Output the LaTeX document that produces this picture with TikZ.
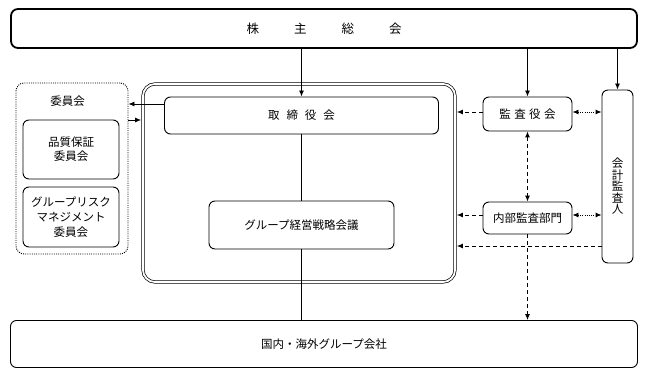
\documentclass[tikz,border=0pt]{standalone}
\usepackage{fontspec}
\setmainfont{Noto Sans CJK JP}
\usetikzlibrary{arrows.meta}

\begin{document}
\begin{tikzpicture}[
    x=1pt, y=-1pt,
    every node/.style={font=\fontsize{11.5}{14}\selectfont},
    line width=0.9pt,
    box/.style={draw, rounded corners=6pt, fill=white, align=center, inner sep=0pt},
    arr/.style={-{Latex[length=6pt,width=5pt]}},
    twoarr/.style={{Latex[length=6pt,width=5pt]}-{Latex[length=6pt,width=5pt]}},
    dashline/.style={dash pattern=on 4pt off 3pt},
    dotline/.style={dash pattern=on 1pt off 1.2pt}
]
\useasboundingbox (0,0) rectangle (648,377);

% shareholders and group companies
\node[box, line width=1.8pt, rounded corners=7pt, minimum width=626pt, minimum height=39pt,
      font=\fontsize{12.5}{15}\selectfont] (sh) at (324,28.5)
    {株\hspace{2.8em}主\hspace{2.8em}総\hspace{2.8em}会};
\node[box, minimum width=627pt, minimum height=47pt] (grp) at (324,344) {国内・海外グループ会社};

% board frame
\node[draw, double, double distance=1.8pt, line width=0.7pt, rounded corners=12pt,
      minimum width=312pt, minimum height=198pt] (frame) at (299,183) {};
\node[box, minimum width=274pt, minimum height=37pt] (bod) at (301.5,115.5)
    {取\hspace{0.6em}締\hspace{0.6em}役\hspace{0.6em}会};
\node[box, minimum width=185pt, minimum height=48pt] (gsm) at (301.5,225) {グループ経営戦略会議};

% committees
\node[draw, dotline, rounded corners=8pt, minimum width=112pt, minimum height=171pt] (com) at (72,168.5) {};
\node (comlbl) at (67.5,101) {委員会};
\node[box, minimum width=96pt, minimum height=59pt] (qa) at (71,149.5) {品質保証\\委員会};
\node[box, minimum width=96pt, minimum height=60pt, font=\fontsize{11.5}{15}\selectfont] (grm) at (71,217)
    {グループリスク\\マネジメント\\委員会};

% audit side
\node[box, minimum width=89pt, minimum height=34pt] (kan) at (527.5,114)
    {監\hspace{0.3em}査\hspace{0.3em}役\hspace{0.3em}会};
\node[box, minimum width=89pt, minimum height=32pt] (nai) at (527.5,218) {内部監査部門};
\node[box, minimum width=31pt, minimum height=173pt] (kai) at (617.5,176.5) {};
\node[align=center, font=\fontsize{11.5}{11.5}\selectfont] (kaitxt) at (617.5,186.5) {会\\計\\監\\査\\人};

% solid connectors
\draw[arr] (sh.south -| bod.north) -- (bod.north);
\draw[arr] (sh.south -| kan.north) -- (kan.north);
\draw[arr] (sh.south -| kai.north) -- (kai.north);
\draw (bod.south) -- (bod.south |- gsm.north);
\draw (gsm.south) -- (gsm.south |- grp.north);
\draw[arr] ([yshift=11.5pt]bod.west) -- ([yshift=11.5pt]bod.west -| com.east);
\draw[arr, shorten >=1.5pt] ([yshift=48.5pt]com.east) -- ([yshift=48.5pt]com.east -| frame.west);

% audit connectors
\draw[arr, dashline, shorten >=1.5pt] ([yshift=2pt]kan.west) -- ([yshift=2pt]kan.west -| frame.east);
\draw[arr, dashline, shorten >=1.5pt] ([yshift=3pt]nai.west) -- ([yshift=3pt]nai.west -| frame.east);
\draw[arr, dashline, shorten >=1.5pt] ([yshift=-69.5pt]kai.west) -- ([yshift=-69.5pt]kai.west -| frame.east);
\draw[twoarr, dotline] ([yshift=2pt]kan.east) -- ([yshift=2pt]kan.east -| kai.west);
\draw[twoarr, dotline] ([yshift=3pt]nai.east) -- ([yshift=3pt]nai.east -| kai.west);
\draw[twoarr, dashline] (kan.south) -- (nai.north);
\draw[arr, dashline] (nai.south) -- (nai.south |- grp.north);
\end{tikzpicture}
\end{document}
